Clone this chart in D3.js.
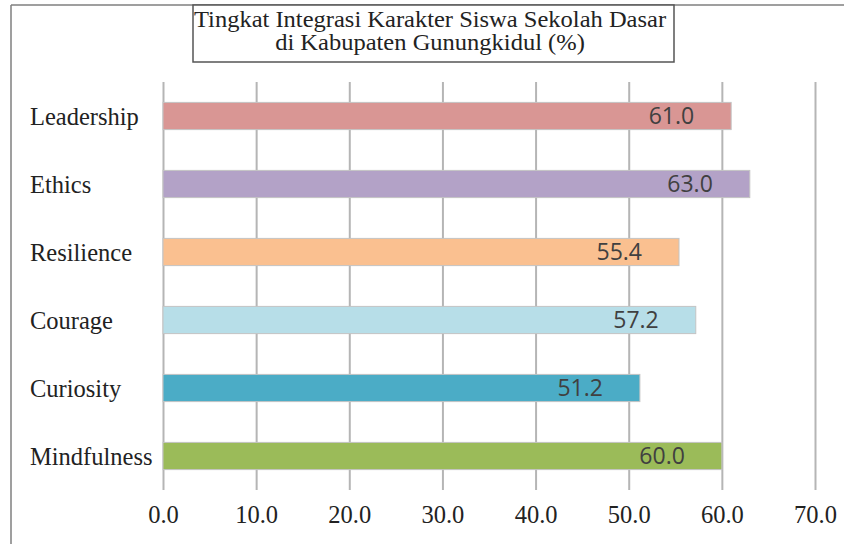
<!DOCTYPE html>
<html>
<head>
<meta charset="utf-8">
<script src="https://cdn.jsdelivr.net/npm/d3@7"></script>
<style>
  html, body { margin: 0; padding: 0; background: #fff; }
  svg { display: block; }
</style>
</head>
<body>
<svg id="chart" width="844" height="544"></svg>
<script>
const categories = ["Leadership", "Ethics", "Resilience", "Courage", "Curiosity", "Mindfulness"];
const values = [61.0, 63.0, 55.4, 57.2, 51.2, 60.0];
const barColors = ["#D99694", "#B3A2C7", "#FAC090", "#B7DEE8", "#4BACC6", "#9BBB59"];
const tickValues = [0, 10, 20, 30, 40, 50, 60, 70];
const titleLines = ["Tingkat Integrasi Karakter Siswa Sekolah Dasar", "di Kabupaten Gunungkidul (%)"];

const svg = d3.select("#chart");
const W = 844, H = 544;
const serif = "'Liberation Serif', 'Times New Roman', serif";

// outer frame (left & top edges visible)
svg.append("line").attr("x1", 11).attr("x2", 11).attr("y1", 5).attr("y2", H)
  .attr("stroke", "#7f7f7f").attr("stroke-width", 1.5);
svg.append("line").attr("x1", 11).attr("x2", W).attr("y1", 5).attr("y2", 5)
  .attr("stroke", "#7f7f7f").attr("stroke-width", 1.5);

const x = d3.scaleLinear().domain([0, 70]).range([163, 815]);
const y = d3.scaleBand().domain(categories).range([82, 490]).paddingInner(0.6).paddingOuter(0.3);

// gridlines via axis
const grid = svg.append("g").attr("transform", "translate(0,490)")
  .call(d3.axisBottom(x).tickValues(tickValues).tickSize(-408).tickFormat(""));
grid.select(".domain").remove();
grid.selectAll(".tick line").attr("stroke", "#b5b5b5").attr("stroke-width", 2);

// tick labels
const axis = svg.append("g").attr("transform", "translate(0,490)")
  .call(d3.axisBottom(x).tickValues(tickValues).tickSize(0).tickPadding(0).tickFormat(d3.format(".1f")));
axis.select(".domain").remove();
axis.selectAll(".tick text")
  .attr("y", 33).attr("dy", 0)
  .attr("font-family", serif).attr("font-size", 24.5).attr("fill", "#222");

// bars
svg.append("g").selectAll("rect").data(categories).join("rect")
  .attr("x", x(0))
  .attr("y", d => y(d))
  .attr("width", (d, i) => x(values[i]) - x(0))
  .attr("height", y.bandwidth())
  .attr("fill", (d, i) => barColors[i])
  .attr("stroke", "#c4c4c4").attr("stroke-width", 1);

// value labels
svg.append("g").selectAll("text").data(categories).join("text")
  .attr("x", (d, i) => x(values[i]) - 37)
  .attr("y", d => y(d) + y.bandwidth() / 2 + 8)
  .attr("text-anchor", "end")
  .attr("font-family", "'Open Sans', sans-serif").attr("font-size", 23)
  .attr("fill", "#404040")
  .text((d, i) => d3.format(".1f")(values[i]));

// category labels (left aligned)
svg.append("g").selectAll("text").data(categories).join("text")
  .attr("x", 30)
  .attr("y", d => y(d) + y.bandwidth() / 2 + 9)
  .attr("font-family", serif).attr("font-size", 24.5).attr("fill", "#222")
  .text(d => d);

// title box
svg.append("rect").attr("x", 193).attr("y", 5).attr("width", 481).attr("height", 57)
  .attr("fill", "#fff").attr("stroke", "#555").attr("stroke-width", 1.5);
svg.append("g").attr("transform", "translate(430,0) scale(1.09,1)")
  .selectAll("text").data(titleLines).join("text")
  .attr("x", 0).attr("y", (d, i) => 27.5 + i * 23)
  .attr("text-anchor", "middle")
  .attr("font-family", serif).attr("font-size", 22.5).attr("fill", "#222")
  .text(d => d);
</script>
</body>
</html>
